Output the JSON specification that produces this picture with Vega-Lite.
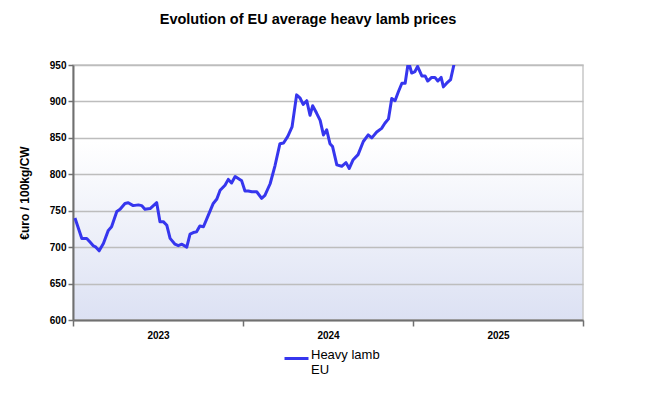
{
  "$schema": "https://vega.github.io/schema/vega-lite/v6.json",
  "width": 510,
  "height": 255,
  "autosize": "none",
  "padding": {"left": 73, "top": 65, "right": 62, "bottom": 76},
  "background": "white",
  "title": {
    "text": "Evolution of EU average heavy lamb prices",
    "font": "Liberation Sans",
    "fontSize": 14.5,
    "fontWeight": "bold",
    "color": "black",
    "anchor": "middle",
    "dx": -20,
    "offset": 33
  },
  "config": {
    "font": "Liberation Sans",
    "view": {
      "stroke": "#c8c8c8",
      "strokeWidth": 1.5,
      "fill": {
        "gradient": "linear",
        "x1": 0, "y1": 0, "x2": 0, "y2": 1,
        "stops": [
          {"offset": 0, "color": "#ffffff"},
          {"offset": 0.3, "color": "#ffffff"},
          {"offset": 1, "color": "#dce1f3"}
        ]
      }
    }
  },
  "data": {
    "values": [
      {"week": 1.6, "price": 740, "series": "Heavy lamb EU"},
      {"week": 3.7, "price": 712, "series": "Heavy lamb EU"},
      {"week": 5.2, "price": 712, "series": "Heavy lamb EU"},
      {"week": 6.2, "price": 707, "series": "Heavy lamb EU"},
      {"week": 7.2, "price": 702, "series": "Heavy lamb EU"},
      {"week": 8.0, "price": 700, "series": "Heavy lamb EU"},
      {"week": 9.0, "price": 695, "series": "Heavy lamb EU"},
      {"week": 10.3, "price": 705, "series": "Heavy lamb EU"},
      {"week": 11.8, "price": 723, "series": "Heavy lamb EU"},
      {"week": 12.8, "price": 728, "series": "Heavy lamb EU"},
      {"week": 14.4, "price": 749, "series": "Heavy lamb EU"},
      {"week": 15.4, "price": 752, "series": "Heavy lamb EU"},
      {"week": 16.9, "price": 760, "series": "Heavy lamb EU"},
      {"week": 17.9, "price": 761, "series": "Heavy lamb EU"},
      {"week": 19.4, "price": 757, "series": "Heavy lamb EU"},
      {"week": 21.0, "price": 758, "series": "Heavy lamb EU"},
      {"week": 22.0, "price": 757, "series": "Heavy lamb EU"},
      {"week": 23.0, "price": 752, "series": "Heavy lamb EU"},
      {"week": 24.6, "price": 753, "series": "Heavy lamb EU"},
      {"week": 26.6, "price": 761, "series": "Heavy lamb EU"},
      {"week": 27.6, "price": 735, "series": "Heavy lamb EU"},
      {"week": 28.6, "price": 735, "series": "Heavy lamb EU"},
      {"week": 29.7, "price": 730, "series": "Heavy lamb EU"},
      {"week": 30.7, "price": 712, "series": "Heavy lamb EU"},
      {"week": 32.2, "price": 704, "series": "Heavy lamb EU"},
      {"week": 33.2, "price": 702, "series": "Heavy lamb EU"},
      {"week": 34.3, "price": 704, "series": "Heavy lamb EU"},
      {"week": 35.8, "price": 700, "series": "Heavy lamb EU"},
      {"week": 36.8, "price": 718, "series": "Heavy lamb EU"},
      {"week": 37.8, "price": 720, "series": "Heavy lamb EU"},
      {"week": 38.8, "price": 721, "series": "Heavy lamb EU"},
      {"week": 39.8, "price": 729, "series": "Heavy lamb EU"},
      {"week": 40.9, "price": 728, "series": "Heavy lamb EU"},
      {"week": 42.4, "price": 744, "series": "Heavy lamb EU"},
      {"week": 43.9, "price": 760, "series": "Heavy lamb EU"},
      {"week": 45.0, "price": 766, "series": "Heavy lamb EU"},
      {"week": 46.0, "price": 778, "series": "Heavy lamb EU"},
      {"week": 47.5, "price": 785, "series": "Heavy lamb EU"},
      {"week": 48.5, "price": 793, "series": "Heavy lamb EU"},
      {"week": 49.5, "price": 788, "series": "Heavy lamb EU"},
      {"week": 50.6, "price": 797, "series": "Heavy lamb EU"},
      {"week": 52.6, "price": 791, "series": "Heavy lamb EU"},
      {"week": 53.6, "price": 777, "series": "Heavy lamb EU"},
      {"week": 54.6, "price": 777, "series": "Heavy lamb EU"},
      {"week": 55.7, "price": 776, "series": "Heavy lamb EU"},
      {"week": 57.2, "price": 776, "series": "Heavy lamb EU"},
      {"week": 58.7, "price": 767, "series": "Heavy lamb EU"},
      {"week": 59.7, "price": 771, "series": "Heavy lamb EU"},
      {"week": 61.3, "price": 787, "series": "Heavy lamb EU"},
      {"week": 62.8, "price": 812, "series": "Heavy lamb EU"},
      {"week": 64.3, "price": 842, "series": "Heavy lamb EU"},
      {"week": 65.4, "price": 843, "series": "Heavy lamb EU"},
      {"week": 66.7, "price": 852, "series": "Heavy lamb EU"},
      {"week": 68.0, "price": 865, "series": "Heavy lamb EU"},
      {"week": 69.4, "price": 909, "series": "Heavy lamb EU"},
      {"week": 70.4, "price": 905, "series": "Heavy lamb EU"},
      {"week": 71.4, "price": 896, "series": "Heavy lamb EU"},
      {"week": 72.5, "price": 901, "series": "Heavy lamb EU"},
      {"week": 73.5, "price": 881, "series": "Heavy lamb EU"},
      {"week": 74.3, "price": 894, "series": "Heavy lamb EU"},
      {"week": 75.5, "price": 884, "series": "Heavy lamb EU"},
      {"week": 76.6, "price": 874, "series": "Heavy lamb EU"},
      {"week": 77.6, "price": 854, "series": "Heavy lamb EU"},
      {"week": 78.6, "price": 861, "series": "Heavy lamb EU"},
      {"week": 79.6, "price": 842, "series": "Heavy lamb EU"},
      {"week": 80.4, "price": 838, "series": "Heavy lamb EU"},
      {"week": 81.7, "price": 813, "series": "Heavy lamb EU"},
      {"week": 83.2, "price": 811, "series": "Heavy lamb EU"},
      {"week": 84.5, "price": 816, "series": "Heavy lamb EU"},
      {"week": 85.5, "price": 808, "series": "Heavy lamb EU"},
      {"week": 86.7, "price": 820, "series": "Heavy lamb EU"},
      {"week": 88.2, "price": 827, "series": "Heavy lamb EU"},
      {"week": 89.8, "price": 845, "series": "Heavy lamb EU"},
      {"week": 91.3, "price": 854, "series": "Heavy lamb EU"},
      {"week": 92.4, "price": 850, "series": "Heavy lamb EU"},
      {"week": 93.9, "price": 858, "series": "Heavy lamb EU"},
      {"week": 95.4, "price": 863, "series": "Heavy lamb EU"},
      {"week": 96.4, "price": 870, "series": "Heavy lamb EU"},
      {"week": 97.5, "price": 876, "series": "Heavy lamb EU"},
      {"week": 98.5, "price": 904, "series": "Heavy lamb EU"},
      {"week": 99.5, "price": 901, "series": "Heavy lamb EU"},
      {"week": 100.5, "price": 913, "series": "Heavy lamb EU"},
      {"week": 101.6, "price": 925, "series": "Heavy lamb EU"},
      {"week": 102.6, "price": 925, "series": "Heavy lamb EU"},
      {"week": 103.6, "price": 955, "series": "Heavy lamb EU"},
      {"week": 104.6, "price": 939, "series": "Heavy lamb EU"},
      {"week": 105.6, "price": 941, "series": "Heavy lamb EU"},
      {"week": 106.4, "price": 948, "series": "Heavy lamb EU"},
      {"week": 107.7, "price": 935, "series": "Heavy lamb EU"},
      {"week": 108.7, "price": 935, "series": "Heavy lamb EU"},
      {"week": 109.5, "price": 928, "series": "Heavy lamb EU"},
      {"week": 110.7, "price": 933, "series": "Heavy lamb EU"},
      {"week": 111.7, "price": 933, "series": "Heavy lamb EU"},
      {"week": 112.6, "price": 928, "series": "Heavy lamb EU"},
      {"week": 113.6, "price": 933, "series": "Heavy lamb EU"},
      {"week": 114.3, "price": 920, "series": "Heavy lamb EU"},
      {"week": 115.3, "price": 925, "series": "Heavy lamb EU"},
      {"week": 116.5, "price": 930, "series": "Heavy lamb EU"},
      {"week": 117.5, "price": 950, "series": "Heavy lamb EU"},
      {"week": 118.5, "price": 975, "series": "Heavy lamb EU"}
    ]
  },
  "mark": {"type": "line", "strokeWidth": 3, "clip": true, "strokeJoin": "round"},
  "encoding": {
    "x": {
      "field": "week",
      "type": "quantitative",
      "scale": {"domain": [1, 157], "nice": false, "zero": false},
      "axis": {
        "values": [1, 53, 105, 157],
        "labelExpr": "datum.value == 1 ? '2023' : datum.value == 53 ? '2024' : datum.value == 105 ? '2025' : ''",
        "labelOffset": 85,
        "labelFlush": false,
        "labelBound": false,
        "labelOverlap": false,
        "grid": false,
        "title": null,
        "tickSize": 6,
        "tickWidth": 1.5,
        "tickColor": "#707070",
        "domainColor": "#707070",
        "domainWidth": 2,
        "labelFont": "Liberation Sans",
        "labelFontSize": 10,
        "labelFontWeight": "bold",
        "labelColor": "black",
        "labelPadding": 4
      }
    },
    "y": {
      "field": "price",
      "type": "quantitative",
      "scale": {"domain": [600, 950], "nice": false, "zero": false},
      "axis": {
        "values": [600, 650, 700, 750, 800, 850, 900, 950],
        "title": "€uro / 100kg/CW",
        "titleFont": "Liberation Sans",
        "titleFontSize": 12,
        "titleFontWeight": "bold",
        "titleColor": "black",
        "titlePadding": 18,
        "grid": true,
        "gridColor": "#bdbdbd",
        "gridWidth": 1.5,
        "tickSize": 5,
        "tickWidth": 1.5,
        "tickColor": "#707070",
        "domainColor": "#707070",
        "domainWidth": 2,
        "labelFont": "Liberation Sans",
        "labelFontSize": 10,
        "labelFontWeight": "bold",
        "labelColor": "black",
        "labelPadding": 2,
        "labelFlush": false
      }
    },
    "color": {
      "field": "series",
      "type": "nominal",
      "scale": {"range": ["#3636ee"]},
      "legend": {
        "title": null,
        "orient": "none",
        "legendX": 210,
        "legendY": 280,
        "padding": 0,
        "symbolType": "stroke",
        "symbolSize": 576,
        "symbolStrokeWidth": 3,
        "labelExpr": "['Heavy lamb', 'EU']",
        "labelFont": "Liberation Sans",
        "labelFontSize": 13,
        "labelColor": "black",
        "labelBaseline": "alphabetic",
        "labelOffset": 1
      }
    }
  }
}
